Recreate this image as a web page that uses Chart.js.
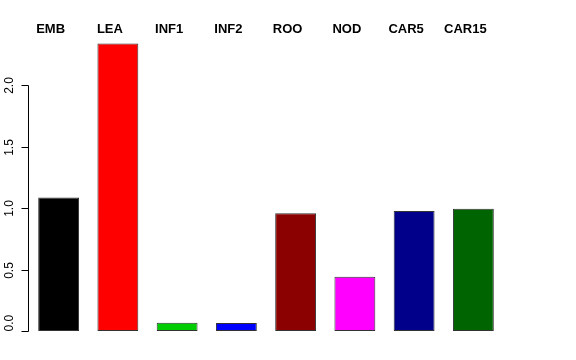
<!DOCTYPE html>
<html><head><meta charset="utf-8">
<script src="https://cdn.jsdelivr.net/npm/chart.js@4/dist/chart.umd.min.js"></script>
<style>html,body{margin:0;padding:0;background:#fff}#wrap{width:576px;height:360px}</style>
</head><body><div id="wrap"><canvas id="c" width="576" height="360"></canvas></div>
<script>
const categories = ["EMB","LEA","INF1","INF2","ROO","NOD","CAR5","CAR15"];
const values = [1.087, 2.339, 0.067, 0.065, 0.957, 0.442, 0.977, 0.994];
const barColors = ["#000000","#FF0000","#00CD00","#0000FF","#8B0000","#FF00FF","#00008B","#006400"];
const yTicks = [0, 0.5, 1.0, 1.5, 2.0];
const yTickLabels = ["0.0","0.5","1.0","1.5","2.0"];

const rAxis = {
  id: 'rAxis',
  afterDraw(chart) {
    const ctx = chart.ctx, y = chart.scales.y, x = chart.scales.x;
    const ax = chart.chartArea.left - 0.5;
    ctx.save();
    ctx.strokeStyle = '#000'; ctx.lineWidth = 1;
    ctx.beginPath();
    ctx.moveTo(ax, Math.round(y.getPixelForValue(yTicks[0])) + 0.5);
    ctx.lineTo(ax, Math.round(y.getPixelForValue(yTicks[yTicks.length-1])) + 0.5);
    ctx.stroke();
    ctx.fillStyle = '#000';
    ctx.font = '12px "Liberation Sans", Arial, sans-serif';
    ctx.textBaseline = 'middle';
    yTicks.forEach((v, i) => {
      const py = Math.round(y.getPixelForValue(v)) + 0.5;
      ctx.beginPath(); ctx.moveTo(ax - 7, py); ctx.lineTo(ax, py); ctx.stroke();
      ctx.save(); ctx.translate(10, py); ctx.rotate(-Math.PI/2);
      if (i === 0) { ctx.textAlign = 'left'; ctx.fillText(yTickLabels[i], 0, 0); }
      else { ctx.textAlign = 'center'; ctx.fillText(yTickLabels[i], 0, 0); }
      ctx.restore();
    });
    ctx.textAlign = 'center';
    ctx.font = 'bold 13px "Liberation Sans", Arial, sans-serif';
    categories.forEach((c, i) => {
      ctx.fillText(c, x.getPixelForValue(i) - 8, 29);
    });
    ctx.restore();
  }
};

new Chart(document.getElementById('c'), {
  type: 'bar',
  data: { labels: categories, datasets: [{ data: values, backgroundColor: barColors,
    borderColor: '#333333', borderWidth: 1, borderSkipped: false,
    barPercentage: 0.69, categoryPercentage: 1.0 }] },
  options: {
    responsive: false, animation: false, devicePixelRatio: 1,
    layout: { padding: { left: 29, right: 73, top: 36, bottom: 29 } },
    plugins: { legend: { display: false }, tooltip: { enabled: false } },
    scales: {
      x: { display: false, offset: true },
      y: { display: false, min: 0, max: 2.4 }
    }
  },
  plugins: [rAxis]
});
</script></body></html>
